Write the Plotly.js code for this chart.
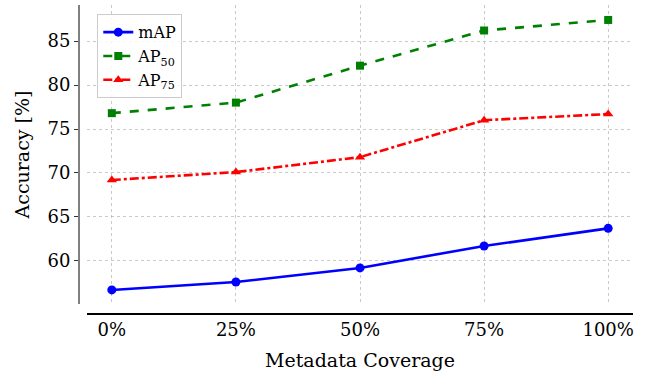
<!DOCTYPE html>
<html>
<head>
<meta charset="utf-8">
<script src="https://cdn.plot.ly/plotly-3.0.1.min.js"></script>
<style>
html,body{margin:0;padding:0;background:#fff;}
#chart{width:650px;height:373px;}
</style>
</head>
<body>
<div id="chart"></div>
<script>
const categories = ["0%", "25%", "50%", "75%", "100%"];
const mAP = [56.7, 57.6, 59.2, 61.7, 63.7];
const AP50 = [76.8, 78.0, 82.2, 86.2, 87.4];
const AP75 = [69.2, 70.1, 71.8, 76.0, 76.7];
const yTicks = [60, 65, 70, 75, 80, 85];

const xIdx = categories.map((_, i) => i);
const font = "DejaVu Serif";

const traces = [
  {x: xIdx, y: mAP, name: "mAP", mode: "lines+markers",
   line: {color: "#0000ff", width: 2.6}, marker: {symbol: "circle", size: 9, color: "#0000ff"}},
  {x: xIdx, y: AP50, name: "AP<sub>50</sub>", mode: "lines+markers",
   line: {color: "#008000", width: 2.6, dash: "dash"}, marker: {symbol: "square", size: 8, color: "#008000"}},
  {x: xIdx, y: AP75, name: "AP<sub>75</sub>", mode: "lines+markers",
   line: {color: "#ff0000", width: 2.6, dash: "dashdot"}, marker: {symbol: "triangle-up", size: 9, color: "#ff0000"}}
];

const layout = {
  width: 650, height: 373,
  margin: {l: 79, r: 17, t: 5, b: 60},
  paper_bgcolor: "#fff", plot_bgcolor: "#fff",
  font: {family: font, color: "#000", size: 18},
  showlegend: true,
  legend: {x: 0.033, y: 0.97, xanchor: "left", yanchor: "top",
           bgcolor: "rgba(255,255,255,0.85)", bordercolor: "#cccccc", borderwidth: 1,
           font: {family: font, size: 16, color: "#000"}, tracegroupgap: 0},
  xaxis: {
    domain: [8/554, 1], anchor: "free", position: 0,
    range: [-0.2, 4.2], tickmode: "array", tickvals: xIdx, ticktext: categories,
    showline: true, linecolor: "#000", linewidth: 1.5,
    ticks: "", showgrid: true, gridcolor: "#b4b4b4", griddash: "dot", gridwidth: 0.7,
    zeroline: false, tickfont: {family: font, size: 18, color: "#000"},
    title: {text: "Metadata Coverage", font: {family: font, size: 19, color: "#000"}, standoff: 14}
  },
  yaxis: {
    domain: [9/308, 1], anchor: "free", position: 0,
    range: [55.1, 89.1], tickmode: "array", tickvals: yTicks,
    showline: true, linecolor: "#808080", linewidth: 2,
    ticks: "outside", ticklen: 4, tickcolor: "#333", tickwidth: 1,
    showgrid: true, gridcolor: "#b4b4b4", griddash: "dot", gridwidth: 0.7,
    zeroline: false, tickfont: {family: font, size: 18, color: "#000"},
    title: {text: "Accuracy [%]", font: {family: font, size: 19, color: "#000"}, standoff: 12}
  }
};

Plotly.newPlot("chart", traces, layout, {staticPlot: true, displayModeBar: false});
</script>
</body>
</html>
